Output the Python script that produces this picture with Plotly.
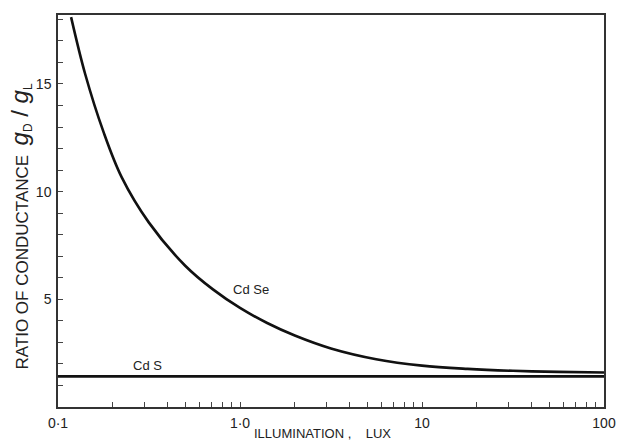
import plotly.graph_objects as go

# Data
cdse_lux = [0.118, 0.141, 0.178, 0.224, 0.316, 0.5, 0.71, 1.0, 1.41, 2.0, 3.16, 5.6, 10, 17.8, 31.6, 56, 100]
cdse_ratio = [18.1, 15.46, 12.76, 10.66, 8.56, 6.56, 5.46, 4.6, 3.9, 3.32, 2.72, 2.22, 1.92, 1.77, 1.68, 1.63, 1.60]
cds_lux = [0.1, 100]
cds_ratio = [1.42, 1.42]

x_tick_vals = [0.1, 1, 10, 100]
x_tick_text = ["0·1", "1·0", "10", "100"]
x_minor_vals = [m * d for d in (0.1, 1, 10) for m in range(2, 10)]
y_tick_vals = [5, 10, 15]

FONT = "Liberation Sans, Arial, sans-serif"

fig = go.Figure()
fig.add_trace(go.Scatter(x=cdse_lux, y=cdse_ratio, mode="lines",
                         line=dict(color="#111", width=2.6, shape="spline", smoothing=1.0),
                         showlegend=False))
fig.add_trace(go.Scatter(x=cds_lux, y=cds_ratio, mode="lines",
                         line=dict(color="#111", width=2.6),
                         showlegend=False))

fig.add_annotation(x=0.06, y=5.45, xref="x", yref="y", text="Cd Se", showarrow=False,
                   font=dict(family=FONT, size=13, color="#222"))
fig.add_annotation(x=-0.51, y=1.95, xref="x", yref="y", text="Cd S", showarrow=False,
                   font=dict(family=FONT, size=13, color="#222"))

# axis titles
fig.add_annotation(x=0.485, y=-0.068, xref="paper", yref="paper", yanchor="middle",
                   text="ILLUMINATION ,    LUX", showarrow=False,
                   font=dict(family=FONT, size=13, color="#222"))
fig.add_annotation(x=-0.068, y=0.46, xref="paper", yref="paper", xanchor="center", yanchor="middle",
                   textangle=-90, showarrow=False,
                   text="RATIO OF CONDUCTANCE  <span style='font-size:24px'><i>g</i></span><sub>D</sub><span style='font-size:24px'> / <i>g</i></span><sub>L</sub>",
                   font=dict(family=FONT, size=17, color="#222"))

all_x_vals = x_tick_vals + x_minor_vals
all_x_text = x_tick_text + [""] * len(x_minor_vals)

fig.update_layout(
    width=620, height=442,
    margin=dict(l=58, r=16, t=15, b=35),
    paper_bgcolor="white", plot_bgcolor="white",
    font=dict(family=FONT, size=13, color="#222"),
    xaxis=dict(
        type="log", range=[-1, 2], automargin=False,
        tickvals=all_x_vals, ticktext=all_x_text,
        ticks="inside", ticklen=5, tickwidth=1, tickcolor="#444",
        showgrid=False, zeroline=False,
        showline=True, linecolor="#333", linewidth=1.5, mirror=True,
        tickfont=dict(size=14), ticklabelstandoff=2,
    ),
    yaxis=dict(
        range=[0, 18.2], automargin=False,
        tickvals=y_tick_vals,
        ticks="inside", ticklen=5, tickwidth=1, tickcolor="#444",
        minor=dict(dtick=1, ticks="inside", ticklen=5, tickcolor="#444", showgrid=False),
        showgrid=False, zeroline=False,
        showline=True, linecolor="#333", linewidth=1.5, mirror=True,
        tickfont=dict(size=14), ticklabelstandoff=2,
    ),
)

fig.write_html("out.html")
